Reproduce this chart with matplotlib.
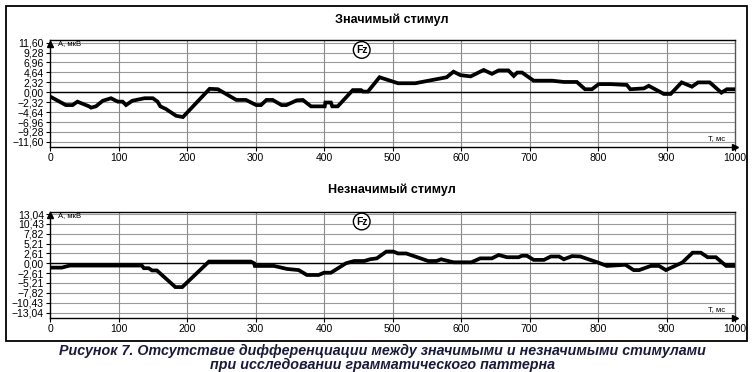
import matplotlib.pyplot as plt
from matplotlib.patches import Rectangle

# Значимый стимул
t_sig = [3, 23, 33, 40, 57, 60, 67, 77, 89, 99, 106, 111, 120, 138, 150, 157, 161, 169,
         184, 194, 233, 245, 272, 286, 301, 308, 316, 325, 338, 345, 360, 369, 381, 401,
         402, 410, 412, 420, 442, 454, 457, 464, 481, 508, 533, 579, 589, 599, 614, 633,
         645, 655, 669, 677, 682, 689, 706, 733, 750, 769, 781, 791, 801, 818, 842, 847,
         867, 874, 896, 906, 922, 937, 946, 963, 980, 988, 1000]
a_sig = [-1.25, -3.0, -3.0, -2.2, -3.3, -3.6, -3.3, -2.0, -1.4, -2.2, -2.2, -3.0, -2.0,
         -1.4, -1.4, -2.2, -3.3, -3.9, -5.5, -5.8, 0.8, 0.7, -1.8, -1.8, -3.0, -3.0, -1.8,
         -1.8, -3.0, -3.0, -1.9, -1.8, -3.3, -3.3, -2.4, -2.4, -3.3, -3.3, 0.5, 0.5, 0.15,
         0.15, 3.5, 2.1, 2.1, 3.5, 4.8, 4.0, 3.7, 5.2, 4.3, 5.1, 5.1, 3.8, 4.6, 4.6, 2.7,
         2.7, 2.4, 2.4, 0.7, 0.7, 1.9, 1.9, 1.7, 0.7, 0.9, 1.5, -0.4, -0.4, 2.3, 1.3, 2.3,
         2.3, -0.1, 0.7, 0.7]

# Незначимый стимул
t_ns = [4, 17, 29, 134, 137, 144, 149, 156, 183, 193, 232, 293, 298, 299, 327, 346, 363,
        375, 392, 400, 410, 432, 444, 459, 467, 477, 491, 501, 508, 520, 552, 564, 571,
        589, 615, 628, 645, 655, 667, 684, 689, 696, 706, 721, 731, 743, 750, 762, 774,
        799, 813, 840, 852, 860, 877, 889, 899, 923, 938, 950, 960, 972, 987, 999]
a_ns = [-1.15, -1.15, -0.6, -0.6, -1.3, -1.3, -1.9, -1.9, -6.3, -6.3, 0.45, 0.45, 0.0,
        -0.7, -0.7, -1.5, -1.8, -3.1, -3.1, -2.5, -2.5, 0.0, 0.6, 0.6, 1.06, 1.3, 3.1, 3.1,
        2.6, 2.6, 0.6, 0.6, 1.06, 0.26, 0.26, 1.3, 1.3, 2.2, 1.6, 1.6, 2.0, 2.0, 0.9, 0.9,
        1.8, 1.8, 1.06, 1.9, 1.8, 0.26, -0.7, -0.4, -1.8, -1.8, -0.7, -0.7, -1.8, 0.2, 2.8,
        2.8, 1.6, 1.6, -0.7, -0.7]

ticks_sig = [11.60, 9.28, 6.96, 4.64, 2.32, 0.00, -2.32, -4.64, -6.96, -9.28, -11.60]
ticks_ns = [13.04, 10.43, 7.82, 5.21, 2.61, 0.00, -2.61, -5.21, -7.82, -10.43, -13.04]
x_ticks = [0, 100, 200, 300, 400, 500, 600, 700, 800, 900, 1000]

titles = ["Значимый стимул", "Незначимый стимул"]
caption = ("Рисунок 7. Отсутствие дифференциации между значимыми и незначимыми стимулами\n"
           "при исследовании грамматического паттерна")

plt.rcParams['font.family'] = ['Liberation Sans', 'DejaVu Sans']

fig = plt.figure(figsize=(7.52, 3.72), dpi=100)


def fmt(v):
    s = f"{abs(v):.2f}".replace('.', ',')
    return ("\u2212" + s) if v < 0 else s


def panel(rect, t, a, ticks, ylim):
    ax = fig.add_axes(rect)
    ax.plot(t, a, color='black', lw=2.7, solid_joinstyle='miter', zorder=3)
    ax.set_xlim(0, 1000)
    ax.set_ylim(*ylim)
    ax.set_yticks(ticks)
    ax.set_yticklabels([fmt(v) for v in ticks])
    ax.set_xticks(x_ticks)
    ax.set_xticklabels([str(v) for v in x_ticks])
    ax.tick_params(axis='both', labelsize=7.5, length=3, width=0.8, color='black', pad=1.5)
    ax.tick_params(axis='x', pad=1.5)
    for v in ticks:
        ax.axhline(v, color='#9a9a9a', lw=0.8, zorder=1)
    for v in x_ticks[1:-1]:
        ax.axvline(v, color='#8a8a8a', lw=0.8, zorder=1)
    ax.axhline(0, color='black', lw=1.0, zorder=2)
    for s in ax.spines.values():
        s.set_linewidth(1.0)
    ax.spines['right'].set_color('#555555')
    # стрелки осей
    ax.plot([0.0], [0.965], marker='^', color='black', ms=5, transform=ax.transAxes,
            clip_on=False, zorder=5)
    ax.text(0.012, 0.965, "А, мкВ", transform=ax.transAxes, fontsize=5.5, va='center')
    ax.plot([1.0], [0.0], marker='>', color='black', ms=5, transform=ax.transAxes,
            clip_on=False, zorder=5)
    ax.text(0.985, 0.075, "Т, мс", transform=ax.transAxes, fontsize=5.5, ha='right',
            va='center')
    ax.text(455, ylim[1] * 0.81, "Fz", fontsize=7.5, fontweight='bold', ha='center',
            va='center', zorder=6,
            bbox=dict(boxstyle='circle,pad=0.25', fc='white', ec='black', lw=1.0))
    return ax


panel([0.0665, 0.6048, 0.911, 0.2876], t_sig, a_sig, ticks_sig, (-12.8, 12.2))
panel([0.0665, 0.1460, 0.911, 0.2849], t_ns, a_ns, ticks_ns, (-14.4, 13.65))

fig.text(0.521, 0.946, titles[0], ha='center', va='center', fontsize=9,
         fontweight='bold')
fig.text(0.521, 0.489, titles[1], ha='center', va='center', fontsize=9,
         fontweight='bold')

fig.patches.append(Rectangle((6 / 752, 1 - 340.7 / 372), 740.7 / 752, 334.7 / 372,
                             transform=fig.transFigure, fill=False, ec='black', lw=1.3))

fig.text(0.509, 0.0, caption, ha='center', va='bottom', fontsize=10.3,
         fontweight='bold', style='italic', color='#1a1a3a', linespacing=1.0)

fig.savefig('out.png', dpi=100)
